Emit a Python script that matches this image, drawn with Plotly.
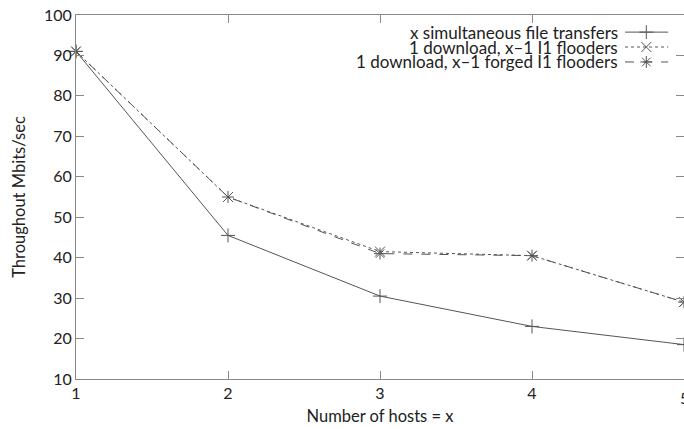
import plotly.graph_objects as go

hosts = [1, 2, 3, 4, 5]
simultaneous = [91, 45.5, 30.5, 23, 18.5]
flooders = [91, 55, 41.5, 40.5, 29]
forged = [91, 55, 41, 40.5, 29]
names = ["x simultaneous file transfers", "1 download, x\u20131 I1 flooders",
         "1 download, x\u20131 forged I1 flooders"]
dashes = ["solid", "dot", "dash"]
symbols = ["cross-thin-open", "x-thin-open", "asterisk-open"]
series = [simultaneous, flooders, forged]

LC = "#555555"
FONT = "Lato"
fig = go.Figure()
for ys, nm, d, s in zip(series, names, dashes, symbols):
    fig.add_trace(go.Scatter(x=hosts, y=ys, name=nm, mode="lines+markers",
                             line=dict(color=LC, width=1, dash=d),
                             marker=dict(symbol=s, size=10, color=LC, line=dict(color=LC, width=1)),
                             showlegend=False, cliponaxis=False))

# manual legend (text right-aligned, sample on the right)
leg_y = [0.953, 0.912, 0.871]
for nm, d, s, yy in zip(names, dashes, symbols, leg_y):
    fig.add_annotation(xref="paper", yref="paper", x=0.895, y=yy, text=nm,
                       showarrow=False, xanchor="right", yanchor="middle",
                       font=dict(family=FONT, size=17, color="#222"))
    fig.add_trace(go.Scatter(x=[0.903, 0.938, 0.974], y=[yy, yy, yy], xaxis="x2", yaxis="y2",
                             mode="lines", line=dict(color=LC, width=1, dash=d),
                             showlegend=False, hoverinfo="skip"))
    fig.add_trace(go.Scatter(x=[0.938], y=[yy], xaxis="x2", yaxis="y2", mode="markers",
                             marker=dict(symbol=s, size=10, color=LC, line=dict(color=LC, width=1)),
                             showlegend=False, hoverinfo="skip"))

# last x tick label sits at the page edge (plotly hides it), draw it as text
fig.add_annotation(x=hosts[-1], xref="x", yref="paper", y=0, yshift=-18, text=str(hosts[-1]),
                   showarrow=False, xanchor="center", yanchor="middle",
                   font=dict(family=FONT, size=16, color="#222"))

fig.update_layout(
    width=684, height=429, margin=dict(l=76, r=0, t=15, b=50, autoexpand=False),
    plot_bgcolor="white", paper_bgcolor="white",
    font=dict(family=FONT, size=16, color="#222"),
    xaxis=dict(range=[1, 5], tickvals=hosts, ticks="inside", ticklen=8, tickcolor="#888",
               showline=True, linecolor="#888", mirror="ticks", showgrid=False, zeroline=False,
               automargin=False, tickfont=dict(size=16),
               title=dict(text="Number of hosts = x", standoff=9, font=dict(size=16.5))),
    yaxis=dict(range=[10, 100], dtick=10, ticks="inside", ticklen=8, tickcolor="#888",
               showline=True, linecolor="#888", mirror="ticks", showgrid=False, zeroline=False,
               automargin=False, tickfont=dict(size=16),
               title=dict(text="Throughout Mbits/sec", standoff=14, font=dict(size=16.5))),
    xaxis2=dict(range=[0, 1], overlaying="x", visible=False),
    yaxis2=dict(range=[0, 1], overlaying="y", visible=False),
)
fig.write_html("out.html", config={"displayModeBar": False}, post_script=(
    "document.body.style.margin='0';document.body.style.overflow='hidden';"
    "document.documentElement.style.overflow='hidden';"))
